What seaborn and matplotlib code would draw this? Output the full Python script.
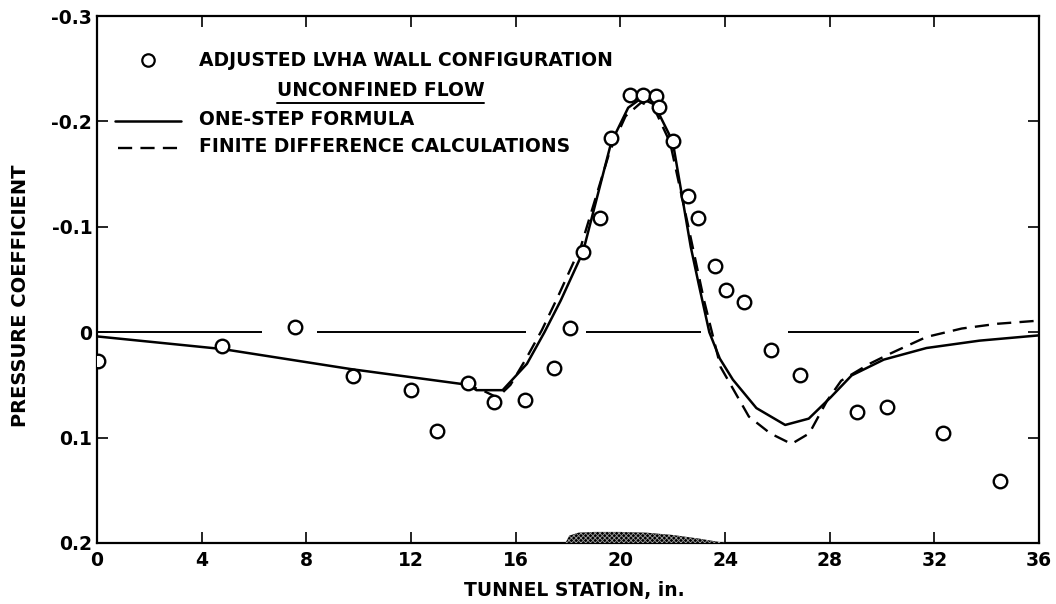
import numpy as np
import pandas as pd
import matplotlib.pyplot as plt
import seaborn as sns

# measured points (adjusted LVHA wall configuration)
meas_x = [0.05, 4.79, 7.56, 9.77, 11.99, 13.0, 14.18, 15.19, 16.37, 17.45,
          18.07, 18.57, 19.22, 19.65, 20.36, 20.87, 21.35, 21.47, 22.0, 22.58,
          22.98, 23.6, 24.03, 24.71, 25.77, 26.88, 29.05, 30.2, 32.33, 34.5]
meas_cp = [0.027, 0.013, -0.005, 0.042, 0.055, 0.094, 0.048, 0.066, 0.064, 0.034,
           -0.004, -0.076, -0.108, -0.184, -0.225, -0.225, -0.224, -0.214, -0.181, -0.129,
           -0.108, -0.063, -0.040, -0.029, 0.017, 0.041, 0.076, 0.071, 0.096, 0.141]

# one-step formula (solid)
onestep_x = [0.0, 4.8, 9.7, 14.2, 14.5, 15.5, 16.43, 17.1, 17.72, 18.57,
             19.65, 20.3, 20.8, 21.3, 22.0, 22.69, 23.0, 23.4, 23.8, 24.3,
             25.2, 26.3, 27.2, 28.03, 28.84, 30.07, 31.7, 33.73, 36.0]
onestep_cp = [0.004, 0.016, 0.035, 0.050, 0.055, 0.055, 0.030, 0.0, -0.030, -0.076,
              -0.180, -0.213, -0.222, -0.216, -0.181, -0.081, -0.045, 0.0, 0.025, 0.045,
              0.072, 0.088, 0.082, 0.062, 0.041, 0.026, 0.015, 0.008, 0.003]

# finite difference calculations (dashed)
findiff_x = [14.0, 14.8, 15.3, 15.8, 16.4, 17.0, 17.6, 18.5, 19.6, 20.2,
             20.8, 21.3, 21.9, 22.6, 23.2, 23.5, 23.83, 24.91, 25.73, 26.54,
             27.22, 27.9, 28.44, 29.52, 30.34, 31.7, 33.05, 34.41, 36.0]
findiff_cp = [0.049, 0.056, 0.062, 0.050, 0.025, -0.002, -0.033, -0.082, -0.172, -0.205,
              -0.218, -0.212, -0.180, -0.100, -0.030, 0.0, 0.033, 0.080, 0.096, 0.106,
              0.096, 0.065, 0.046, 0.030, 0.020, 0.0045, -0.0035, -0.008, -0.011]

# model body sketched on the floor
body_x = [17.9, 18.05, 18.4, 19.0, 20.0, 21.0, 22.0, 23.0, 24.0]
body_h = [0.0, 0.007, 0.0098, 0.0105, 0.0105, 0.0098, 0.0076, 0.0042, 0.0]

# broken reference line at Cp = 0
zero_from = [0.0, 8.4, 18.7, 26.4]
zero_to = [6.3, 16.4, 23.1, 31.4]

x_ticks = [0, 4, 8, 12, 16, 20, 24, 28, 32, 36]
y_ticks = [-0.3, -0.2, -0.1, 0.0, 0.1, 0.2]
y_labels = ['-0.3', '-0.2', '-0.1', '0', '0.1', '0.2']

sns.set_style("ticks")
plt.rcParams['font.family'] = ['DejaVu Sans']
plt.rcParams['text.color'] = 'black'
plt.rcParams['axes.labelcolor'] = 'black'

fig = plt.figure(figsize=(10.56, 6.04), dpi=100)
ax = fig.add_axes([0.0919, 0.101, 0.892, 0.8725])

meas = pd.DataFrame({'x': meas_x, 'cp': meas_cp})
onestep = pd.DataFrame({'x': onestep_x, 'cp': onestep_cp})
findiff = pd.DataFrame({'x': findiff_x, 'cp': findiff_cp})

ax.hlines([0] * len(zero_from), zero_from, zero_to, color='black', lw=1.4)

sns.lineplot(data=onestep, x='x', y='cp', ax=ax, color='black', lw=1.8,
             sort=False, estimator=None)
sns.lineplot(data=findiff, x='x', y='cp', ax=ax, color='black', lw=1.7,
             sort=False, estimator=None, linestyle=(0, (6, 3.5)))
sns.scatterplot(data=meas, x='x', y='cp', ax=ax, s=95, facecolor='white',
                edgecolor='black', linewidth=1.7, zorder=5)

bx = np.array(body_x)
plt.rcParams['hatch.linewidth'] = 0.6
ax.fill_between(bx, 0.2, 0.2 - np.array(body_h), facecolor='black',
                edgecolor='#9a9a9a', hatch='xxxxxxx', linewidth=0, zorder=3)

# legend written by hand, as on the original
tkw = dict(fontsize=13.5, fontweight='bold', va='center', color='black')
ax.scatter([1.93], [-0.258], s=80, facecolor='white', edgecolor='black', linewidth=1.6)
ax.text(3.9, -0.258, 'ADJUSTED LVHA WALL CONFIGURATION', **tkw)
ax.text(6.86, -0.229, 'UNCONFINED FLOW', **tkw)
ax.plot([6.86, 14.8], [-0.2175, -0.2175], color='black', lw=1.4)
ax.plot([0.7, 3.2], [-0.2, -0.2], color='black', lw=1.8)
ax.text(3.9, -0.202, 'ONE-STEP FORMULA', **tkw)
ax.plot([0.8, 3.2], [-0.175, -0.175], color='black', lw=1.7, linestyle=(0, (6, 3.5)))
ax.text(3.9, -0.176, 'FINITE DIFFERENCE CALCULATIONS', **tkw)

ax.set_xlim(0, 36)
ax.set_ylim(0.2, -0.3)
ax.set_xticks(x_ticks)
ax.set_yticks(y_ticks)
ax.set_yticklabels(y_labels)
ax.tick_params(direction='in', length=8, width=1.2, top=True, right=True,
               labelsize=13.5, colors='black')
ax.tick_params(axis='x', pad=6)
for lab in ax.get_xticklabels() + ax.get_yticklabels():
    lab.set_fontweight('bold')
for sp in ax.spines.values():
    sp.set_visible(True)
    sp.set_color('black')
    sp.set_linewidth(1.6)

ax.set_xlabel('TUNNEL STATION, in.', fontsize=13.5, fontweight='bold')
ax.set_ylabel('PRESSURE COEFFICIENT', fontsize=14, fontweight='bold')
ax.xaxis.set_label_coords(0.507, -0.072)
ax.yaxis.set_label_coords(-0.071, 0.469)

fig.savefig('out.png', dpi=100)
